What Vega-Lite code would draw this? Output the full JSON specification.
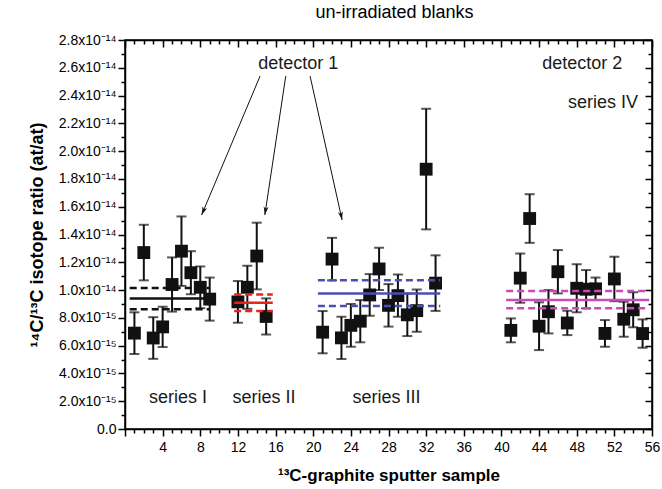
{
  "$schema": "https://vega.github.io/schema/vega-lite/v6.json",
  "width": 527,
  "height": 389,
  "autosize": {"type": "none"},
  "padding": {"left": 125, "top": 40, "right": 10, "bottom": 60},
  "background": "white",
  "config": {
    "view": {"stroke": "black", "strokeWidth": 1.5},
    "font": "Liberation Sans",
    "axis": {"grid": false, "domainColor": "black", "domainWidth": 1.5, "tickColor": "black", "tickWidth": 1.5, "labelColor": "black", "labelFont": "Liberation Sans", "labelFontSize": 14, "titleColor": "black", "titleFont": "Liberation Sans", "labelOverlap": false, "labelFlush": false}
  },
  "title": {"text": "un-irradiated blanks", "fontSize": 18, "fontWeight": "normal", "font": "Liberation Sans", "color": "black", "offset": 11, "dx": 6},
  "datasets": {
    "pts": [
      {"x": 1, "v": 6.9e-15, "lo": 5.4e-15, "hi": 8.4e-15},
      {"x": 2, "v": 12.7e-15, "lo": 10.7e-15, "hi": 14.7e-15},
      {"x": 3, "v": 6.55e-15, "lo": 5.05e-15, "hi": 8.05e-15},
      {"x": 4, "v": 7.35e-15, "lo": 5.9e-15, "hi": 8.8e-15},
      {"x": 5, "v": 10.4e-15, "lo": 8.45e-15, "hi": 12.35e-15},
      {"x": 6, "v": 12.8e-15, "lo": 10.3e-15, "hi": 15.3e-15},
      {"x": 7, "v": 11.25e-15, "lo": 9.7e-15, "hi": 12.8e-15},
      {"x": 8, "v": 10.2e-15, "lo": 8.7e-15, "hi": 11.7e-15},
      {"x": 9, "v": 9.35e-15, "lo": 7.8e-15, "hi": 10.9e-15},
      {"x": 12, "v": 9.15e-15, "lo": 7.65e-15, "hi": 10.65e-15},
      {"x": 13, "v": 10.2e-15, "lo": 8.65e-15, "hi": 11.75e-15},
      {"x": 14, "v": 12.45e-15, "lo": 10.05e-15, "hi": 14.85e-15},
      {"x": 15, "v": 8.1e-15, "lo": 6.8e-15, "hi": 9.4e-15},
      {"x": 21, "v": 6.97e-15, "lo": 5.45e-15, "hi": 8.49e-15},
      {"x": 22, "v": 12.23e-15, "lo": 10.7e-15, "hi": 13.76e-15},
      {"x": 23, "v": 6.56e-15, "lo": 5.04e-15, "hi": 8.08e-15},
      {"x": 24, "v": 7.46e-15, "lo": 5.92e-15, "hi": 9.0e-15},
      {"x": 25, "v": 7.76e-15, "lo": 6.24e-15, "hi": 9.28e-15},
      {"x": 26, "v": 9.65e-15, "lo": 8.15e-15, "hi": 11.15e-15},
      {"x": 27, "v": 11.52e-15, "lo": 10.0e-15, "hi": 13.04e-15},
      {"x": 28, "v": 8.9e-15, "lo": 7.37e-15, "hi": 10.43e-15},
      {"x": 29, "v": 9.6e-15, "lo": 8.08e-15, "hi": 11.12e-15},
      {"x": 30, "v": 8.22e-15, "lo": 6.69e-15, "hi": 9.75e-15},
      {"x": 31, "v": 8.52e-15, "lo": 7.0e-15, "hi": 10.04e-15},
      {"x": 32, "v": 18.7e-15, "lo": 14.37e-15, "hi": 23.05e-15},
      {"x": 33, "v": 10.5e-15, "lo": 8.5e-15, "hi": 12.5e-15},
      {"x": 41, "v": 7.1e-15, "lo": 6.24e-15, "hi": 7.96e-15},
      {"x": 42, "v": 10.86e-15, "lo": 9.09e-15, "hi": 12.63e-15},
      {"x": 43, "v": 15.15e-15, "lo": 13.4e-15, "hi": 16.9e-15},
      {"x": 44, "v": 7.4e-15, "lo": 5.68e-15, "hi": 9.12e-15},
      {"x": 45, "v": 8.44e-15, "lo": 6.88e-15, "hi": 10.0e-15},
      {"x": 46, "v": 11.32e-15, "lo": 9.76e-15, "hi": 12.88e-15},
      {"x": 47, "v": 7.63e-15, "lo": 6.76e-15, "hi": 8.51e-15},
      {"x": 48, "v": 10.13e-15, "lo": 8.4e-15, "hi": 11.86e-15},
      {"x": 49, "v": 10.06e-15, "lo": 8.68e-15, "hi": 11.44e-15},
      {"x": 50, "v": 10.09e-15, "lo": 9.28e-15, "hi": 10.9e-15},
      {"x": 51, "v": 6.88e-15, "lo": 5.92e-15, "hi": 7.84e-15},
      {"x": 52, "v": 10.8e-15, "lo": 9.2e-15, "hi": 12.4e-15},
      {"x": 53, "v": 7.9e-15, "lo": 6.64e-15, "hi": 9.16e-15},
      {"x": 54, "v": 8.58e-15, "lo": 7.32e-15, "hi": 9.84e-15},
      {"x": 55, "v": 6.87e-15, "lo": 5.85e-15, "hi": 7.89e-15}
    ],
    "lines": [
      {"s": "I", "style": "solid", "x1": 0.5, "x2": 9.0, "v": 9.4e-15},
      {"s": "I", "style": "dashed", "x1": 0.5, "x2": 9.0, "v": 10.15e-15},
      {"s": "I", "style": "dashed", "x1": 0.5, "x2": 9.0, "v": 8.62e-15},
      {"s": "II", "style": "solid", "x1": 11.6, "x2": 15.7, "v": 9.09e-15},
      {"s": "II", "style": "dashed", "x1": 11.6, "x2": 15.7, "v": 9.69e-15},
      {"s": "II", "style": "dashed", "x1": 11.6, "x2": 15.7, "v": 8.5e-15},
      {"s": "III", "style": "solid", "x1": 20.5, "x2": 33.5, "v": 9.76e-15},
      {"s": "III", "style": "dashed", "x1": 20.5, "x2": 33.5, "v": 10.7e-15},
      {"s": "III", "style": "dashed", "x1": 20.5, "x2": 33.5, "v": 8.85e-15},
      {"s": "IV", "style": "solid", "x1": 40.5, "x2": 55.7, "v": 9.28e-15},
      {"s": "IV", "style": "dashed", "x1": 40.5, "x2": 55.7, "v": 9.93e-15},
      {"s": "IV", "style": "dashed", "x1": 40.5, "x2": 55.7, "v": 8.7e-15}
    ],
    "arrows": [
      {"x": 14.35, "v": 2.54e-14, "x2": 8.14, "v2": 1.54e-14, "angle": 22.8},
      {"x": 17.08, "v": 2.54e-14, "x2": 14.86, "v2": 1.54e-14, "angle": 8.5},
      {"x": 19.67, "v": 2.54e-14, "x2": 23.07, "v2": 1.504e-14, "angle": -12.4}
    ],
    "texts": [
      {"x": 18.4, "v": 2.63e-14, "t": "detector 1"},
      {"x": 48.6, "v": 2.63e-14, "t": "detector 2"},
      {"x": 50.8, "v": 2.35e-14, "t": "series IV"},
      {"x": 5.63, "v": 2.2e-15, "t": "series I"},
      {"x": 14.76, "v": 2.2e-15, "t": "series II"},
      {"x": 27.8, "v": 2.2e-15, "t": "series III"}
    ]
  },
  "layer": [
    {
      "data": {"name": "pts"},
      "mark": {"type": "point", "opacity": 0},
      "encoding": {
        "x": {"field": "x", "type": "quantitative", "scale": {"domain": [0, 56], "nice": false, "zero": false},
          "axis": {"orient": "bottom", "values": [0,1,2,3,4,5,6,7,8,9,10,11,12,13,14,15,16,17,18,19,20,21,22,23,24,25,26,27,28,29,30,31,32,33,34,35,36,37,38,39,40,41,42,43,44,45,46,47,48,49,50,51,52,53,54,55,56],
            "labelExpr": "datum.value % 4 === 0 && datum.value > 0 ? datum.label : ''",
            "tickSize": {"condition": {"test": "datum.value % 4 === 0", "value": 7}, "value": 4},
            "labelPadding": 4,
            "title": "¹³C-graphite sputter sample", "titleFontSize": 17, "titleFontWeight": "bold", "titlePadding": 13}},
        "y": {"field": "v", "type": "quantitative", "scale": {"domain": [0, 2.8e-14], "nice": false, "zero": false},
          "axis": {"orient": "left", "values": [0,1e-15,2e-15,3e-15,4e-15,5e-15,6e-15,7e-15,8e-15,9e-15,1e-14,1.1e-14,1.2e-14,1.3e-14,1.4e-14,1.5e-14,1.6e-14,1.7e-14,1.8e-14,1.9e-14,2e-14,2.1e-14,2.2e-14,2.3e-14,2.4e-14,2.5e-14,2.6e-14,2.7e-14,2.8e-14],
            "labelExpr": "round(datum.value*1e15) % 2 !== 0 ? '' : (datum.value == 0 ? '0.0' : (datum.value < 9.5e-15 ? format(datum.value*1e15, '.1f') + 'x10⁻¹⁵' : format(datum.value*1e14, '.1f') + 'x10⁻¹⁴'))",
            "tickSize": {"condition": {"test": "round(datum.value*1e15) % 2 === 0", "value": 7}, "value": 4},
            "labelPadding": 2,
            "title": "¹⁴C/¹³C isotope ratio (at/at)", "titleFontSize": 18, "titleFontWeight": "bold", "titlePadding": 12}}
      }
    },
    {
      "data": {"name": "pts"},
      "mark": {"type": "point", "opacity": 0},
      "encoding": {
        "x": {"field": "x", "type": "quantitative", "scale": {"domain": [0, 56], "nice": false, "zero": false},
          "axis": {"orient": "top", "values": [0,1,2,3,4,5,6,7,8,9,10,11,12,13,14,15,16,17,18,19,20,21,22,23,24,25,26,27,28,29,30,31,32,33,34,35,36,37,38,39,40,41,42,43,44,45,46,47,48,49,50,51,52,53,54,55,56],
            "labels": false, "title": null,
            "tickSize": {"condition": {"test": "datum.value % 4 === 0", "value": -7}, "value": -4}}},
        "y": {"field": "v", "type": "quantitative", "scale": {"domain": [0, 2.8e-14], "nice": false, "zero": false},
          "axis": {"orient": "right", "values": [0,1e-15,2e-15,3e-15,4e-15,5e-15,6e-15,7e-15,8e-15,9e-15,1e-14,1.1e-14,1.2e-14,1.3e-14,1.4e-14,1.5e-14,1.6e-14,1.7e-14,1.8e-14,1.9e-14,2e-14,2.1e-14,2.2e-14,2.3e-14,2.4e-14,2.5e-14,2.6e-14,2.7e-14,2.8e-14],
            "labels": false, "title": null,
            "tickSize": {"condition": {"test": "round(datum.value*1e15) % 2 === 0", "value": -7}, "value": -4}}}
      }
    },
    {
      "data": {"name": "pts"},
      "mark": {"type": "rule", "color": "#111111", "strokeWidth": 2},
      "encoding": {
        "x": {"field": "x", "type": "quantitative", "scale": {"domain": [0, 56], "nice": false, "zero": false}, "axis": null},
        "y": {"field": "lo", "type": "quantitative", "scale": {"domain": [0, 2.8e-14], "nice": false, "zero": false}, "axis": null},
        "y2": {"field": "hi"}
      }
    },
    {
      "data": {"name": "pts"},
      "mark": {"type": "tick", "orient": "horizontal", "color": "#111111", "size": 10, "thickness": 2},
      "encoding": {
        "x": {"field": "x", "type": "quantitative", "scale": {"domain": [0, 56], "nice": false, "zero": false}, "axis": null},
        "y": {"field": "lo", "type": "quantitative", "scale": {"domain": [0, 2.8e-14], "nice": false, "zero": false}, "axis": null}
      }
    },
    {
      "data": {"name": "pts"},
      "mark": {"type": "tick", "orient": "horizontal", "color": "#111111", "size": 10, "thickness": 2},
      "encoding": {
        "x": {"field": "x", "type": "quantitative", "scale": {"domain": [0, 56], "nice": false, "zero": false}, "axis": null},
        "y": {"field": "hi", "type": "quantitative", "scale": {"domain": [0, 2.8e-14], "nice": false, "zero": false}, "axis": null}
      }
    },
    {
      "data": {"name": "pts"},
      "mark": {"type": "point", "shape": "square", "filled": true, "size": 165, "color": "#111111", "opacity": 1},
      "encoding": {
        "x": {"field": "x", "type": "quantitative", "scale": {"domain": [0, 56], "nice": false, "zero": false}, "axis": null},
        "y": {"field": "v", "type": "quantitative", "scale": {"domain": [0, 2.8e-14], "nice": false, "zero": false}, "axis": null}
      }
    },
    {
      "data": {"name": "lines"},
      "mark": {"type": "rule", "strokeWidth": 2.5},
      "encoding": {
        "x": {"field": "x1", "type": "quantitative", "scale": {"domain": [0, 56], "nice": false, "zero": false}, "axis": null},
        "x2": {"field": "x2"},
        "y": {"field": "v", "type": "quantitative", "scale": {"domain": [0, 2.8e-14], "nice": false, "zero": false}, "axis": null},
        "color": {"field": "s", "type": "nominal", "scale": {"domain": ["I", "II", "III", "IV"], "range": ["#111111", "#e8231c", "#4b50b0", "#c94ab8"]}, "legend": null},
        "strokeDash": {"field": "style", "type": "nominal", "scale": {"domain": ["solid", "dashed"], "range": [[1, 0], [7, 4]]}, "legend": null}
      }
    },
    {
      "data": {"name": "arrows"},
      "mark": {"type": "rule", "color": "#111111", "strokeWidth": 1},
      "encoding": {
        "x": {"field": "x", "type": "quantitative", "scale": {"domain": [0, 56], "nice": false, "zero": false}, "axis": null},
        "x2": {"field": "x2"},
        "y": {"field": "v", "type": "quantitative", "scale": {"domain": [0, 2.8e-14], "nice": false, "zero": false}, "axis": null},
        "y2": {"field": "v2"}
      }
    },
    {
      "data": {"name": "arrows"},
      "mark": {"type": "point", "shape": "M0,0L-0.35,-1.2L0,-0.9L0.35,-1.2Z", "filled": true, "size": 196, "color": "#111111", "opacity": 1},
      "encoding": {
        "x": {"field": "x2", "type": "quantitative", "scale": {"domain": [0, 56], "nice": false, "zero": false}, "axis": null},
        "y": {"field": "v2", "type": "quantitative", "scale": {"domain": [0, 2.8e-14], "nice": false, "zero": false}, "axis": null},
        "angle": {"field": "angle", "type": "quantitative", "scale": null}
      }
    },
    {
      "data": {"name": "texts"},
      "mark": {"type": "text", "fontSize": 18, "font": "Liberation Sans", "color": "#1a1a1a", "align": "center", "baseline": "middle"},
      "encoding": {
        "x": {"field": "x", "type": "quantitative", "scale": {"domain": [0, 56], "nice": false, "zero": false}, "axis": null},
        "y": {"field": "v", "type": "quantitative", "scale": {"domain": [0, 2.8e-14], "nice": false, "zero": false}, "axis": null},
        "text": {"field": "t"}
      }
    }
  ],
  "resolve": {"axis": {"x": "independent", "y": "independent"}}
}
